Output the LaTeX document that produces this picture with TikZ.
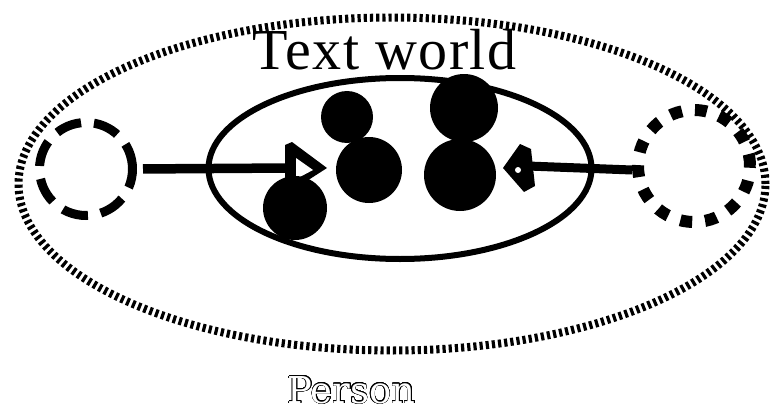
\documentclass[tikz,border=0pt]{standalone}
\usepackage{fontspec}
\setmainfont{Liberation Serif}
\newfontfamily\personfont{DejaVu Serif}
\usepackage{contour}
\contourlength{0.55pt}
\contournumber{24}
\usetikzlibrary{shapes.geometric}
\begin{document}
\begin{tikzpicture}[x=1pt,y=-1pt,
  outerring/.style={ellipse, draw, line width=8pt, dash pattern=on 3.2pt off 3pt,
    minimum width=747pt, minimum height=333pt, inner sep=0pt},
  innerring/.style={ellipse, draw, line width=6pt,
    minimum width=383pt, minimum height=181pt, inner sep=0pt},
  leftcirc/.style={circle, draw, line width=9pt, dash pattern=on 26pt off 13pt,
    minimum size=93pt, inner sep=0pt},
  rightcirc/.style={circle, draw, line width=12pt, dash pattern=on 12pt off 13pt,
    minimum size=112pt, inner sep=0pt},
  dot/.style={circle, fill=black, inner sep=0pt},
  conn/.style={line width=9.5pt},
  headfill/.style={fill=black},
  headhole/.style={fill=white},
  title/.style={font=\fontsize{58}{60}\selectfont\addfontfeature{LetterSpace=2.5}, anchor=base, inner sep=0pt},
  plabel/.style={font=\fontsize{37}{40}\personfont, anchor=base, inner sep=0pt, text=white}
]
\useasboundingbox (0,0) rectangle (773,412);
\node[outerring] (person) at (392,184) {};
\node[innerring] (world) at (400,168.5) {};
\node[leftcirc] (lc) at (86,169) {};
\node[rightcirc] (rc) at (694,166) {};
\coordinate (ltip) at (327,168);
\coordinate (lback) at (290,168);
\coordinate (rtip) at (503,168);
\coordinate (rback) at (528,166);
% left connector with open triangular head
\draw[conn, shorten <=6pt] (lc.east) -- (lback);
\fill[headfill] (ltip) -- ++(-35,-26) -- ++(-7,3) -- ++(0,50) -- cycle;
\fill[headhole] (ltip) ++(-14,2) -- ++(-17,-12) -- ++(0,21) -- cycle;
% right connector with open pentagonal head
\draw[conn, line width=9pt] ([yshift=-4pt]rc.west) -- (rback);
\fill[headfill] (rtip) -- ++(17,-24) -- ++(11,5) -- ++(4,37) -- ++(-11,6) -- cycle;
\fill[headhole] (rtip) ++(15,2) circle[radius=3pt];
\node[dot, minimum size=64pt] (d1) at (295,208) {};
\node[dot, minimum size=52pt] (d2) at (347,117) {};
\node[dot, minimum size=66pt] (d3) at (369,170) {};
\node[dot, minimum size=68pt] (d4) at (464,108) {};
\node[dot, minimum size=72pt] (d5) at (460,175) {};
\node[title] (tw) at (384.5,70) {Text world};
\node[plabel] (pl) at (351.5,403) {\contour{black}{Person}};
\end{tikzpicture}
\end{document}
